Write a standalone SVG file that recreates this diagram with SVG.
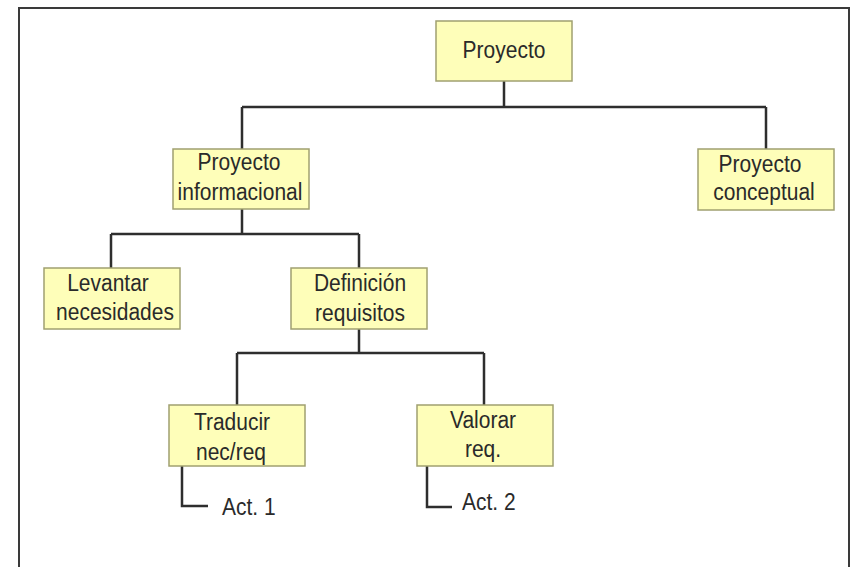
<svg xmlns="http://www.w3.org/2000/svg" width="852" height="567" viewBox="0 0 852 567">
<style>
.frame{fill:none;stroke:#3a3a3a;stroke-width:2}
.box{fill:#fefeb9;stroke:#a0a070;stroke-width:1.5}
.lbl{font-family:"Liberation Sans",Arial,sans-serif;font-size:21px;fill:#2a2a2a;text-anchor:middle}
.act{font-family:"Liberation Sans",Arial,sans-serif;font-size:21px;fill:#2a2a2a}
.ln{fill:none;stroke:#2e2e2e;stroke-width:2.5}
</style>
<rect width="852" height="567" fill="#ffffff"/>
<rect class="frame" x="19" y="8" width="830" height="580"/>
<g id="connectors">
<path class="ln" d="M504 81 V107 M242 107 H766 M242 107 V149 M766 107 V149"/>
<path class="ln" d="M242 209 V234 M111 234 H359 M111 234 V268 M359 234 V268"/>
<path class="ln" d="M359 329 V353 M237 353 H484 M237 353 V405 M484 353 V405"/>
<path class="ln" d="M182 466 V506 H208"/>
<path class="ln" d="M427 466 V507 H452"/>
</g>
<g id="n-proyecto">
<rect class="box" x="436" y="21" width="136" height="60"/>
<text class="lbl" transform="translate(504 58) scale(1 1.12)">Proyecto</text>
</g>
<g id="n-informacional">
<rect class="box" x="173" y="149" width="136" height="60"/>
<text class="lbl" transform="translate(239 170) scale(1 1.12)">Proyecto</text>
<text class="lbl" transform="translate(240 200) scale(1 1.12)">informacional</text>
</g>
<g id="n-conceptual">
<rect class="box" x="698" y="149" width="136" height="61"/>
<text class="lbl" transform="translate(760 172) scale(1 1.12)">Proyecto</text>
<text class="lbl" transform="translate(764 200) scale(1 1.12)">conceptual</text>
</g>
<g id="n-levantar">
<rect class="box" x="44" y="268" width="136" height="61"/>
<text class="lbl" transform="translate(108 291) scale(1 1.12)">Levantar</text>
<text class="lbl" transform="translate(115 320) scale(1 1.12)">necesidades</text>
</g>
<g id="n-definicion">
<rect class="box" x="291" y="268" width="136" height="61"/>
<text class="lbl" transform="translate(360 291) scale(1 1.12)">Definición</text>
<text class="lbl" transform="translate(360 321) scale(1 1.12)">requisitos</text>
</g>
<g id="n-traducir">
<rect class="box" x="169" y="405" width="136" height="61"/>
<text class="lbl" transform="translate(232 430) scale(1 1.12)">Traducir</text>
<text class="lbl" transform="translate(231 460) scale(1 1.12)">nec/req</text>
</g>
<g id="n-valorar">
<rect class="box" x="417" y="405" width="136" height="61"/>
<text class="lbl" transform="translate(483 428) scale(1 1.12)">Valorar</text>
<text class="lbl" transform="translate(483 457) scale(1 1.12)">req.</text>
</g>
<g id="n-act1">
<text class="act" transform="translate(222 515) scale(1 1.12)">Act. 1</text>
</g>
<g id="n-act2">
<text class="act" transform="translate(462 510) scale(1 1.12)">Act. 2</text>
</g>
</svg>
